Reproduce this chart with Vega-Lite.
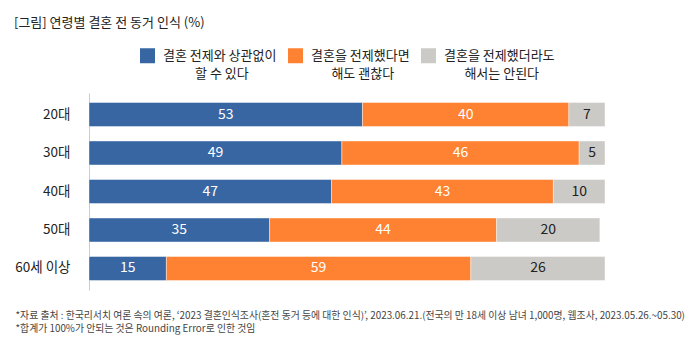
{
  "$schema": "https://vega.github.io/schema/vega-lite/v6.json",
  "width": 516,
  "height": 197,
  "autosize": {"type": "none"},
  "padding": {"left": 89, "top": 93, "right": 95, "bottom": 60},
  "background": "white",
  "config": {
    "font": "Noto Sans CJK KR",
    "view": {"stroke": null},
    "style": {"guide-label": {"lineHeight": 18}}
  },
  "title": {
    "text": "[그림] 연령별 결혼 전 동거 인식 (%)",
    "anchor": "start",
    "frame": "group",
    "dx": -75,
    "offset": 18,
    "fontSize": 13,
    "fontWeight": "normal",
    "color": "#222"
  },
  "data": {
    "values": [
      {"age": "20대", "category": "결혼 전제와 상관없이 할 수 있다", "pct": 53},
      {"age": "20대", "category": "결혼을 전제했다면 해도 괜찮다", "pct": 40},
      {"age": "20대", "category": "결혼을 전제했더라도 해서는 안된다", "pct": 7},
      {"age": "30대", "category": "결혼 전제와 상관없이 할 수 있다", "pct": 49},
      {"age": "30대", "category": "결혼을 전제했다면 해도 괜찮다", "pct": 46},
      {"age": "30대", "category": "결혼을 전제했더라도 해서는 안된다", "pct": 5},
      {"age": "40대", "category": "결혼 전제와 상관없이 할 수 있다", "pct": 47},
      {"age": "40대", "category": "결혼을 전제했다면 해도 괜찮다", "pct": 43},
      {"age": "40대", "category": "결혼을 전제했더라도 해서는 안된다", "pct": 10},
      {"age": "50대", "category": "결혼 전제와 상관없이 할 수 있다", "pct": 35},
      {"age": "50대", "category": "결혼을 전제했다면 해도 괜찮다", "pct": 44},
      {"age": "50대", "category": "결혼을 전제했더라도 해서는 안된다", "pct": 20},
      {"age": "60세 이상", "category": "결혼 전제와 상관없이 할 수 있다", "pct": 15},
      {"age": "60세 이상", "category": "결혼을 전제했다면 해도 괜찮다", "pct": 59},
      {"age": "60세 이상", "category": "결혼을 전제했더라도 해서는 안된다", "pct": 26}
    ]
  },
  "transform": [
    {"stack": "pct", "groupby": ["age"], "sort": [{"field": "category", "order": "ascending"}], "as": ["v0", "v1"]}
  ],
  "encoding": {
    "y": {
      "field": "age",
      "type": "nominal",
      "sort": ["20대", "30대", "40대", "50대", "60세 이상"],
      "scale": {"paddingInner": 0.377, "paddingOuter": 0.247},
      "axis": {
        "title": null,
        "ticks": false,
        "domainColor": "#cccccc",
        "domainWidth": 1,
        "labelPadding": 19,
        "labelFontSize": 13.5,
        "labelColor": "#222"
      }
    }
  },
  "layer": [
    {
      "mark": {"type": "bar", "stroke": "white", "strokeWidth": 0.6, "strokeOpacity": 0.7},
      "encoding": {
        "x": {
          "field": "v0",
          "type": "quantitative",
          "scale": {"domain": [0, 100], "nice": false},
          "axis": {
            "labels": false,
            "ticks": false,
            "domain": false,
            "grid": false,
            "title": [
              "*자료 출처 : 한국리서치 여론 속의 여론, ‘2023 결혼인식조사(혼전 동거 등에 대한 인식)’, 2023.06.21.(전국의 만 18세 이상 남녀 1,000명, 웹조사, 2023.05.26.~05.30)",
              "*합계가 100%가 안되는 것은 Rounding Error로 인한 것임"
            ],
            "titleAnchor": "start",
            "titleAlign": "left",
            "titleBaseline": "top",
            "titleX": -74,
            "titleY": 20,
            "titleFontSize": 9.85,
            "titleFontWeight": "normal",
            "titleLineHeight": 13,
            "titleColor": "#444",
            "titleLimit": 700
          }
        },
        "x2": {"field": "v1"},
        "color": {
          "field": "category",
          "type": "nominal",
          "scale": {
            "domain": ["결혼 전제와 상관없이 할 수 있다", "결혼을 전제했다면 해도 괜찮다", "결혼을 전제했더라도 해서는 안된다"],
            "range": ["#3866A3", "#FF8233", "#CCCAC6"]
          },
          "legend": {
            "orient": "none",
            "legendX": 51,
            "legendY": -45,
            "direction": "horizontal",
            "title": null,
            "padding": 0,
            "symbolType": "square",
            "symbolSize": 225,
            "symbolStrokeWidth": 0,
            "labelOffset": 8,
            "columnPadding": 11,
            "labelFontSize": 13,
            "labelBaseline": "middle",
            "labelColor": "#222",
            "labelLimit": 200,
            "labelExpr": "datum.value == '결혼 전제와 상관없이 할 수 있다' ? ['결혼 전제와 상관없이', '\u200b\u00a0\u00a0\u00a0\u00a0\u00a0\u00a0\u00a0\u00a0\u00a0\u00a0\u00a0할 수 있다'] : datum.value == '결혼을 전제했다면 해도 괜찮다' ? ['결혼을 전제했다면', '\u200b\u00a0\u00a0\u00a0\u00a0\u00a0\u00a0\u00a0해도 괜찮다'] : ['결혼을 전제했더라도', '\u200b\u00a0\u00a0\u00a0\u00a0\u00a0\u00a0\u00a0해서는 안된다']"
          }
        }
      }
    },
    {
      "transform": [{"fold": ["v0", "v1"], "as": ["k", "pos"]}],
      "mark": {"type": "text", "fontSize": 14},
      "encoding": {
        "x": {"aggregate": "mean", "field": "pos", "type": "quantitative", "axis": null},
        "text": {"field": "pct", "type": "quantitative"},
        "color": {
          "field": "category",
          "type": "nominal",
          "scale": {
            "domain": ["결혼 전제와 상관없이 할 수 있다", "결혼을 전제했다면 해도 괜찮다", "결혼을 전제했더라도 해서는 안된다"],
            "range": ["#ffffff", "#ffffff", "#222222"]
          },
          "legend": null
        }
      }
    }
  ],
  "resolve": {"scale": {"color": "independent"}, "axis": {"x": "independent"}}
}
